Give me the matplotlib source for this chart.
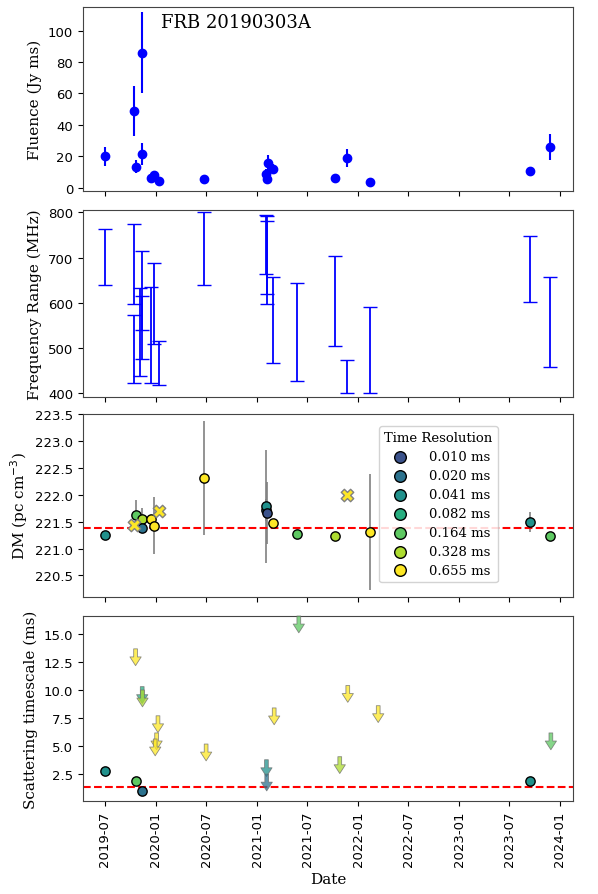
import matplotlib
matplotlib.use("Agg")
import matplotlib.pyplot as plt
import matplotlib.dates as mdates
import numpy as np
import pandas as pd

# Fluence
fl_dates = ["2019-07-01","2019-10-13","2019-10-20","2019-11-11","2019-11-14","2019-12-13","2019-12-27","2020-01-11",
            "2020-06-24","2021-02-04","2021-02-06","2021-02-08","2021-02-27","2021-10-10","2021-11-22","2022-02-13",
            "2023-09-15","2023-11-27"]
fl_vals = [20, 49, 13.5, 86, 21.5, 6, 8, 4.5, 5.5, 9, 5.5, 16, 12, 6, 19, 3.5, 10.5, 26]
fl_errs = [6, 16, 4, 26, 7, 1.5, 2, 1, 1, 3, 1.5, 5, 3, 1, 6, 0.8, 3, 8]

# Frequency ranges
fr_dates = ["2019-07-01","2019-10-13","2019-10-14","2019-11-11","2019-11-06","2019-11-12","2019-12-13","2019-12-27",
            "2020-01-11","2020-06-24","2021-02-04","2021-02-05","2021-02-06","2021-02-27","2021-05-25","2021-10-10",
            "2021-11-22","2022-02-13","2023-09-15","2023-11-27"]
fr_lo = [639, 597, 424, 476, 438, 540, 423, 510, 418, 639, 663, 619, 597, 468, 428, 504, 401, 401, 601, 458]
fr_hi = [764, 773, 574, 715, 632, 614, 635, 688, 516, 800, 795, 791, 781, 657, 644, 703, 474, 591, 747, 657]

# DM
res_levels = ["0.010 ms","0.020 ms","0.041 ms","0.082 ms","0.164 ms","0.328 ms","0.655 ms"]
dm_dates = ["2019-07-01","2019-10-20","2019-11-11","2019-11-14","2019-12-13","2019-12-27","2020-06-24",
            "2021-02-03","2021-02-04","2021-02-06","2021-02-27","2021-05-25","2021-10-10","2022-02-13",
            "2023-09-15","2023-11-27"]
dm_vals = [221.25, 221.63, 221.55, 221.39, 221.54, 221.42, 222.31, 221.72, 221.79, 221.66, 221.47, 221.27, 221.24, 221.31, 221.49, 221.24]
dm_errs = [0, 0.28, 0.21, 0, 0, 0.53, 1.06, 0.2, 1.05, 0.58, 0, 0, 0, 1.08, 0.19, 0]
dm_res = [2, 4, 5, 1, 6, 6, 6, 1, 2, 0, 6, 4, 5, 6, 2, 4]
dmx_dates = ["2019-10-13", "2020-01-11", "2021-11-22"]
dmx_vals = [221.43, 221.70, 222.00]
dm_ref = 221.38

# Scattering
sc_dates = ["2019-07-01","2019-10-20","2019-11-14","2023-09-15"]
sc_vals = [2.74, 1.85, 1.0, 1.85]
sc_res = [2, 4, 1, 2]
ul_dates = ["2019-10-20","2019-11-13","2019-11-14","2020-01-09","2020-01-04","2019-12-30","2020-07-01",
            "2021-02-04","2021-02-05","2021-03-04","2021-06-01","2021-10-27","2021-11-25","2022-03-15","2023-11-29"]
ul_vals = [13.67, 10.3, 10.0, 7.7, 6.17, 5.63, 5.18, 3.78, 2.5, 8.4, 16.6, 4.05, 10.4, 8.6, 6.17]
ul_res = [6, 3, 5, 6, 6, 6, 6, 2, 1, 6, 4, 5, 6, 6, 4]
sc_ref = 1.37

cmap = plt.get_cmap("viridis")
colors = [cmap(v) for v in np.linspace(0.25, 1.0, 7)]
td = lambda l: pd.to_datetime(l)

plt.rcParams["font.family"] = "DejaVu Serif"
plt.rcParams["font.size"] = 11
fig = plt.figure(figsize=(5.98, 8.95), dpi=100)
L, W = 83 / 598, 490 / 598
def rect(top, bot):
    return [L, 1 - bot / 895, W, (bot - top) / 895]
ax1 = fig.add_axes(rect(8, 192))
ax2 = fig.add_axes(rect(211, 398), sharex=ax1)
ax3 = fig.add_axes(rect(415, 598), sharex=ax1)
ax4 = fig.add_axes(rect(617, 802), sharex=ax1)

ax1.errorbar(td(fl_dates), fl_vals, yerr=fl_errs, fmt="o", color="blue", ms=6, elinewidth=1.5)
ax1.set_ylabel("Fluence (Jy ms)")
ax1.set_ylim(-2, 115)
ax1.text(0.16, 0.92, "FRB 20190303A", transform=ax1.transAxes, fontsize=13, va="center")

d = td(fr_dates)
lo = np.array(fr_lo); hi = np.array(fr_hi)
ax2.errorbar(d, (lo + hi) / 2, yerr=(hi - lo) / 2, fmt="none", ecolor="blue", capsize=5, elinewidth=1.3)
ax2.set_ylabel("Frequency Range (MHz)")
ax2.set_ylim(392, 805)

d = td(dm_dates)
for i in range(len(dm_dates)):
    if dm_errs[i] > 0:
        ax3.errorbar(d[i], dm_vals[i], yerr=dm_errs[i], fmt="none", ecolor="grey", elinewidth=1.2, zorder=1)
    ax3.scatter(d[i], dm_vals[i], color=colors[dm_res[i]], edgecolor="black", s=45, zorder=3)
ax3.scatter(td(dmx_dates), dmx_vals, marker="X", color=colors[6], edgecolor="grey", s=80, zorder=3)
ax3.axhline(dm_ref, color="red", ls="--", lw=1.5)
ax3.set_ylim(220.1, 223.5)
ax3.set_yticks([220.5, 221.0, 221.5, 222.0, 222.5, 223.0, 223.5])
ax3.set_ylabel("DM (pc cm$^{-3}$)")
handles = [ax3.scatter([], [], color=c, edgecolor="black", s=70) for c in colors]
leg = ax3.legend(handles, res_levels, title="Time Resolution", loc="upper right",
           bbox_to_anchor=(0.86, 0.97), fontsize=9.5, title_fontsize=9.5, handletextpad=1.2,
           labelspacing=0.45, framealpha=0.85)
leg.set_zorder(10)

d = td(sc_dates)
for i in range(len(sc_dates)):
    ax4.scatter(d[i], sc_vals[i], color=colors[sc_res[i]], edgecolor="black", s=45, zorder=3)
d = td(ul_dates)
for i in range(len(ul_dates)):
    ax4.annotate("", xy=(d[i], ul_vals[i] - 1.5), xytext=(d[i], ul_vals[i]),
                 arrowprops=dict(arrowstyle="simple,head_width=0.9,head_length=0.7,tail_width=0.3",
                                 mutation_scale=9, shrinkA=0, shrinkB=0,
                                 fc=colors[ul_res[i]], ec="dimgray", alpha=0.75, lw=0.6))
ax4.axhline(sc_ref, color="red", ls="--", lw=1.5)
ax4.set_ylim(0.1, 16.6)
ax4.set_yticks([2.5, 5.0, 7.5, 10.0, 12.5, 15.0])
ax4.set_ylabel("Scattering timescale (ms)")
ax4.set_xlabel("Date")

ticks = pd.date_range("2019-07-01", "2024-01-01", freq="6MS")
ax4.set_xticks(ticks)
ax4.xaxis.set_major_formatter(mdates.DateFormatter("%Y-%m"))
ax4.set_xlim(pd.Timestamp("2019-04-13"), pd.Timestamp("2024-02-17"))
for ax in (ax1, ax2, ax3):
    plt.setp(ax.get_xticklabels(), visible=False)
for ax in (ax1, ax2, ax3, ax4):
    for lab in ax.get_yticklabels() + ax.get_xticklabels():
        lab.set_fontfamily("DejaVu Sans")
    ax.tick_params(labelsize=9.5)
    for s in ax.spines.values():
        s.set_color("#444444")
plt.setp(ax4.get_xticklabels(), rotation=90)
fig.savefig("out.png", dpi=100)
